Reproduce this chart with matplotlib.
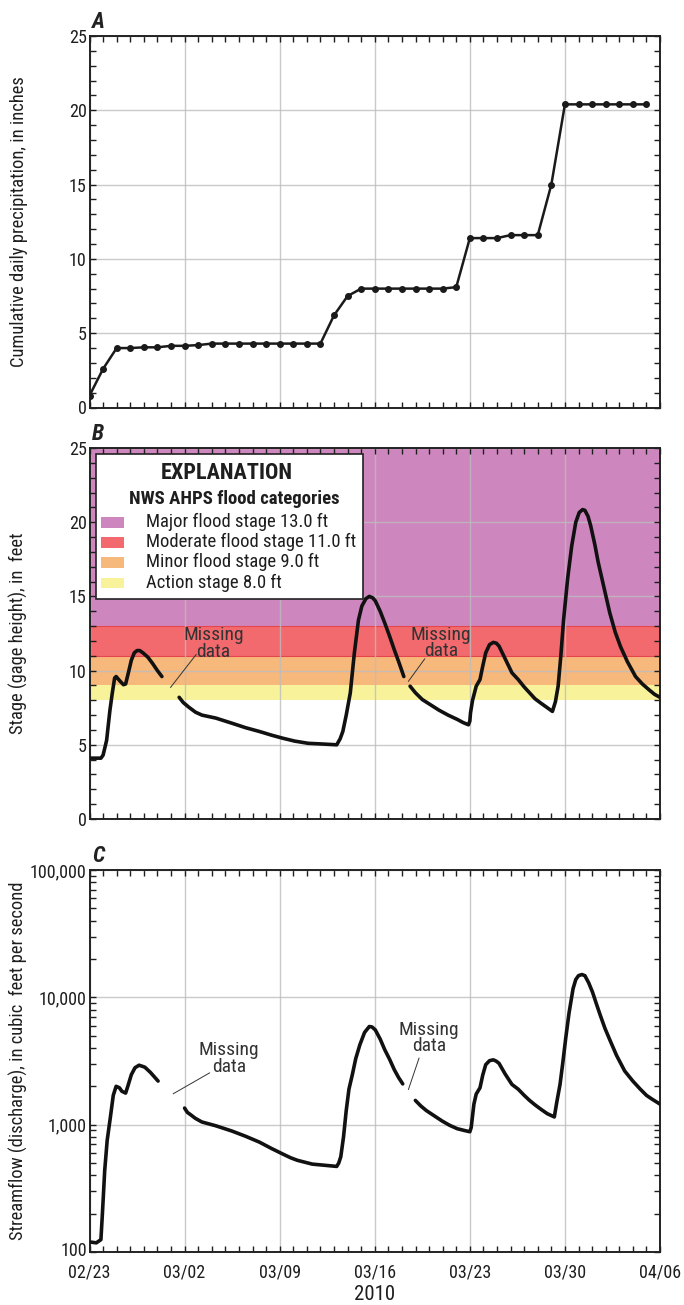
import numpy as np
import matplotlib
matplotlib.use("Agg")
import matplotlib.pyplot as plt
import matplotlib.dates as mdates
import matplotlib.transforms as mtransforms
from matplotlib.patches import Rectangle
from matplotlib.ticker import FixedLocator, MultipleLocator, LogLocator, NullFormatter, FuncFormatter
from matplotlib import font_manager
import datetime as dt

_installed = {f.name for f in font_manager.fontManager.ttflist}
_prefs = ['Roboto Condensed', 'Liberation Sans Narrow', 'Arial Narrow', 'Open Sans Condensed',
          'Roboto', 'DejaVu Sans']
FAMILY = [f for f in _prefs if f in _installed] or ['DejaVu Sans']
plt.rcParams['font.family'] = FAMILY
NARROW = FAMILY[0] in ('Roboto Condensed', 'Liberation Sans Narrow', 'Arial Narrow',
                       'Open Sans Condensed')

# ---------------- data ----------------
start_date = dt.datetime(2010, 2, 23)
end_date = dt.datetime(2010, 4, 6)
tick_labels = ["02/23", "03/02", "03/09", "03/16", "03/23", "03/30", "04/06"]

precip_day = list(range(42))
precip_in = [0.8, 2.6, 4.0, 4.0, 4.05, 4.05, 4.15, 4.15, 4.2, 4.3,
             4.3, 4.3, 4.3, 4.3, 4.3, 4.3, 4.3, 4.3,
             6.2, 7.5,
             8.0, 8.0, 8.0, 8.0, 8.0, 8.0, 8.0,
             8.1,
             11.4, 11.4, 11.4,
             11.6, 11.6, 11.6,
             15.0,
             20.4, 20.4, 20.4, 20.4, 20.4, 20.4, 20.4]

# stage, feet (three segments separated by missing data)
stage_day_1 = [0, 0.84, 1.0, 1.26, 1.5, 1.68, 1.85, 1.96, 2.24, 2.5, 2.66, 2.9, 3.08, 3.3, 3.5,
               3.7, 3.93, 4.3, 4.63, 5.0, 5.33]
stage_ft_1 = [4.1, 4.1, 4.3, 5.3, 7.3, 8.5, 9.5, 9.6, 9.3, 9.05, 9.1, 10.0, 10.7, 11.2, 11.35,
              11.35, 11.2, 10.9, 10.5, 10.0, 9.6]
stage_day_2 = [6.6, 6.9, 7.29, 7.8, 8.28, 9.3, 10.5, 11.5, 12.5, 13.4, 14.2, 15.1, 16.1, 17.2, 18.2,
               18.45, 18.65, 18.9, 19.2, 19.5, 19.8, 20.05, 20.35, 20.6, 20.85, 21.04, 21.4, 21.74,
               22.1, 22.44, 22.8, 23.14]
stage_ft_2 = [8.2, 7.85, 7.55, 7.2, 7.0, 6.8, 6.45, 6.15, 5.9, 5.65, 5.45, 5.25, 5.1, 5.05, 5.0,
              5.4, 5.9, 7.0, 8.5, 11.2, 13.4, 14.35, 14.85, 15.0, 14.9, 14.7, 14.0, 13.2,
              12.3, 11.4, 10.5, 9.6]
stage_day_3 = [23.6, 24.0, 24.5, 25.1, 25.7, 26.4, 27.1, 27.5, 27.9, 28.0, 28.05, 28.2, 28.47, 28.75,
               28.95, 29.17, 29.45, 29.73, 29.95, 30.15, 30.6, 31.1, 31.56, 32.0, 32.4, 32.8, 33.24,
               33.7, 34.08, 34.3, 34.5, 34.7, 34.9, 35.2, 35.5, 35.8, 36.05, 36.3, 36.47, 36.7, 36.9,
               37.2, 37.45, 37.9, 38.3, 38.7, 39.1, 39.6, 40.2, 40.7, 41.2, 41.6, 42.0]
stage_ft_3 = [8.95, 8.5, 8.05, 7.7, 7.35, 7.0, 6.7, 6.5, 6.35, 6.6, 7.15, 8.0, 8.95, 9.4,
              10.3, 11.2, 11.75, 11.9, 11.85, 11.65, 10.8, 9.85, 9.4, 8.9, 8.5, 8.1, 7.8,
              7.5, 7.25, 7.9, 8.95, 11.0, 13.4, 16.2, 18.4, 20.0, 20.65, 20.85, 20.8, 20.4, 19.75,
              18.5, 17.3, 15.5, 13.9, 12.6, 11.6, 10.6, 9.6, 9.1, 8.7, 8.4, 8.2]

# streamflow, cubic feet per second
flow_day_1 = [0, 0.5, 0.84, 0.95, 1.12, 1.3, 1.54, 1.75, 1.96, 2.2, 2.38, 2.66, 2.85, 3.08, 3.35,
              3.65, 4.07, 4.49, 5.05]
flow_cfs_1 = [120, 118, 125, 200, 437, 750, 1150, 1700, 2000, 1950, 1830, 1770, 2050, 2470, 2800,
              2930, 2830, 2570, 2200]
flow_day_2 = [7.0, 7.2, 7.43, 7.8, 8.27, 9.3, 10.5, 11.5, 12.5, 13.4, 14.2, 14.8, 15.3, 16.4, 17.3,
              18.2, 18.35, 18.5, 18.7, 18.9, 19.1, 19.35, 19.6, 19.9, 20.25, 20.6, 20.8, 21.04,
              21.4, 21.74, 22.1, 22.44, 22.75, 23.06]
flow_cfs_2 = [1350, 1250, 1200, 1120, 1050, 980, 890, 810, 730, 650, 590, 550, 525, 490, 480,
              470, 500, 560, 800, 1290, 1900, 2470, 3300, 4230, 5300, 5900, 5850, 5550,
              4700, 3870, 3250, 2700, 2350, 2090]
flow_day_3 = [23.99, 24.4, 24.8, 25.4, 25.95, 26.5, 27.07, 27.6, 28.0, 28.1, 28.19, 28.3, 28.47,
              28.75, 28.95, 29.17, 29.45, 29.73, 29.95, 30.15, 30.6, 31.1, 31.56, 32.0, 32.4,
              32.8, 33.24, 33.7, 34.22, 34.4, 34.64, 34.85, 35.06, 35.3, 35.6, 35.8, 36.0, 36.25,
              36.47, 36.75, 37.03, 37.3, 37.6, 37.95, 38.3, 38.8, 39.4, 40.0, 40.55, 41.0, 41.4, 42.0]
flow_cfs_3 = [1550, 1400, 1290, 1170, 1070, 990, 930, 900, 880, 950, 1150, 1450, 1740,
              1950, 2450, 2960, 3180, 3230, 3150, 3030, 2500, 2070, 1900, 1700, 1550,
              1430, 1320, 1220, 1150, 1500, 2070, 3100, 4780, 7500, 11700, 13800, 14800, 15100,
              14800, 13000, 11000, 9000, 7250, 5700, 4650, 3500, 2640, 2200, 1900, 1700, 1590, 1450]

# flood categories
flood_labels = ["Major flood stage 13.0 ft", "Moderate flood stage 11.0 ft",
                "Minor flood stage 9.0 ft", "Action stage 8.0 ft"]
flood_lower = [13.0, 11.0, 9.0, 8.0]
flood_upper = [25.0, 13.0, 11.0, 9.0]
flood_colors = ["#CE87BE", "#F26A6E", "#F7B87B", "#F8F39B"]

# ---------------- helpers ----------------
base = mdates.date2num(start_date)
def tx(days):
    return base + np.asarray(days, dtype=float)

k = 1.0 if NARROW else 0.86   # shrink text when no condensed face is available
FS_TICK = 13 * k
FS_LAB = 13.3 * k
FS_ANN = 14 * k
FS_LEG = 13.4 * k
TXT = '#1e1e1e'

fig = plt.figure(figsize=(6.84, 13.05), dpi=100)
L, W = 89.5 / 684, 570.5 / 684
axA = fig.add_axes([L, 1 - 407.5 / 1305, W, 371.5 / 1305])
axB = fig.add_axes([L, 1 - 819 / 1305, W, 371 / 1305])
axC = fig.add_axes([L, 1 - 1252 / 1305, W, 382 / 1305])

major_x = [base + 7 * i for i in range(7)]
for ax in (axA, axB, axC):
    ax.set_xlim(mdates.date2num(start_date), mdates.date2num(end_date))
    ax.xaxis.set_major_locator(FixedLocator(major_x))
    ax.xaxis.set_minor_locator(MultipleLocator(1))
    ax.tick_params(which='both', direction='in', top=True, right=True, length=4.5,
                   width=1.0, labelsize=FS_TICK, colors=TXT)
    ax.tick_params(axis='y', pad=2)
    ax.tick_params(axis='x', pad=8)
    ax.grid(True, which='major', color='#BDBDBD', lw=1.0, alpha=0.8)
    ax.set_axisbelow(True)
    for s in ax.spines.values():
        s.set_linewidth(1.4)
        s.set_color('#222222')
    if ax is axC:
        ax.set_xticklabels(tick_labels)
    else:
        ax.set_xticklabels([])

# ---- panel A ----
axA.plot(tx(precip_day), precip_in, color='#1a1a1a', lw=1.8, marker='o', ms=4, zorder=3)
axA.set_ylim(0, 25)
axA.yaxis.set_major_locator(MultipleLocator(5))
axA.yaxis.set_minor_locator(MultipleLocator(1))
axA.set_ylabel("Cumulative daily precipitation, in inches", fontsize=FS_LAB, color=TXT)
axA.yaxis.set_label_coords(-0.108, 0.5)

# ---- panel B ----
for lo, hi, c in zip(flood_lower, flood_upper, flood_colors):
    axB.axhspan(lo, hi, facecolor=c, edgecolor='none', zorder=0.1)
axB.axhline(13.0, color='#E5454C', lw=0.8, zorder=0.2)
axB.axhline(11.0, color='#E5454C', lw=0.8, zorder=0.2)
for d, v in ((stage_day_1, stage_ft_1), (stage_day_2, stage_ft_2), (stage_day_3, stage_ft_3)):
    axB.plot(tx(d), v, color='#111111', lw=2.6, solid_capstyle='round', zorder=3)
axB.set_ylim(0, 25)
axB.yaxis.set_major_locator(MultipleLocator(5))
axB.yaxis.set_minor_locator(MultipleLocator(1))
axB.set_ylabel("Stage (gage height), in  feet", fontsize=FS_LAB, color=TXT)
axB.yaxis.set_label_coords(-0.108, 0.5)

# legend box
axB.add_patch(Rectangle((0.0114, 0.593), 0.468, 0.391, transform=axB.transAxes,
                        facecolor='white', edgecolor='#222222', lw=1.2, zorder=5))
axB.text(0.241, 0.933, "EXPLANATION", transform=axB.transAxes, ha='center', va='center',
         fontsize=16 * k, fontweight='bold', color=TXT, zorder=6)
axB.text(0.254, 0.862, "NWS AHPS flood categories", transform=axB.transAxes, ha='center',
         va='center', fontsize=13.5 * k, fontweight='bold', color=TXT, zorder=6)
entry_y = [0.800, 0.746, 0.692, 0.636]
for yy, lab, c in zip(entry_y, flood_labels, flood_colors):
    axB.add_patch(Rectangle((0.020, yy - 0.0145), 0.040, 0.029, transform=axB.transAxes,
                            facecolor=c, edgecolor='none', zorder=6))
    axB.text(0.099, yy, lab, transform=axB.transAxes, ha='left', va='center',
             fontsize=FS_LEG, color=TXT, zorder=6)

# missing-data annotations B
axB.text(tx(9.14), 11.82, "Missing\ndata", ha='center', va='center', fontsize=FS_ANN,
         color='#333333', linespacing=0.9, zorder=4)
axB.plot(tx([5.97, 7.85]), [8.87, 11.08], color='#333333', lw=0.7, zorder=4)
axB.text(tx(25.86), 11.86, "Missing\ndata", ha='center', va='center', fontsize=FS_ANN,
         color='#333333', linespacing=0.9, zorder=4)
axB.plot(tx([23.48, 24.68]), [9.28, 10.79], color='#333333', lw=0.7, zorder=4)

# ---- panel C ----
for d, v in ((flow_day_1, flow_cfs_1), (flow_day_2, flow_cfs_2), (flow_day_3, flow_cfs_3)):
    axC.plot(tx(d), v, color='#111111', lw=2.6, solid_capstyle='round', zorder=3)
axC.set_yscale('log')
axC.set_ylim(100, 100000)
axC.yaxis.set_major_locator(LogLocator(base=10, numticks=10))
axC.yaxis.set_minor_locator(LogLocator(base=10, subs=np.arange(2, 10), numticks=20))
axC.yaxis.set_minor_formatter(NullFormatter())
axC.yaxis.set_major_formatter(FuncFormatter(lambda v, p: f"{int(round(v)):,}"))
axC.tick_params(which='both', direction='in', top=True, right=True, length=4.5, width=1.0)
axC.set_ylabel("Streamflow (discharge), in cubic  feet per second", fontsize=FS_LAB,
               color=TXT)
axC.yaxis.set_label_coords(-0.108, 0.5)
axC.set_xlabel("2010", fontsize=15 * k, labelpad=3, color=TXT)

axC.text(tx(10.27), 3300, "Missing\ndata", ha='center', va='center', fontsize=FS_ANN,
         color='#333333', linespacing=0.9, zorder=4)
axC.plot(tx([6.17, 8.84]), [1750, 2550], color='#333333', lw=0.7, zorder=4)
axC.text(tx(24.99), 4800, "Missing\ndata", ha='center', va='center', fontsize=FS_ANN,
         color='#333333', linespacing=0.9, zorder=4)
axC.plot(tx([23.48, 24.26]), [1890, 3330], color='#333333', lw=0.7, zorder=4)

# lift the lowest y label of panel C slightly so it clears the first date label
fig.canvas.draw()
for lab in axC.get_yticklabels():
    if lab.get_text() == "100":
        lab.set_transform(lab.get_transform() +
                          mtransforms.ScaledTranslation(0, 2 / 72, fig.dpi_scale_trans))

# panel letters
for ax, letter in ((axA, "A"), (axB, "B"), (axC, "C")):
    ax.text(0.004, 1.008, letter, transform=ax.transAxes, ha='left', va='bottom',
            fontsize=16, fontweight='bold', fontstyle='italic', color='#222222')

fig.savefig("out.png", dpi=100)
